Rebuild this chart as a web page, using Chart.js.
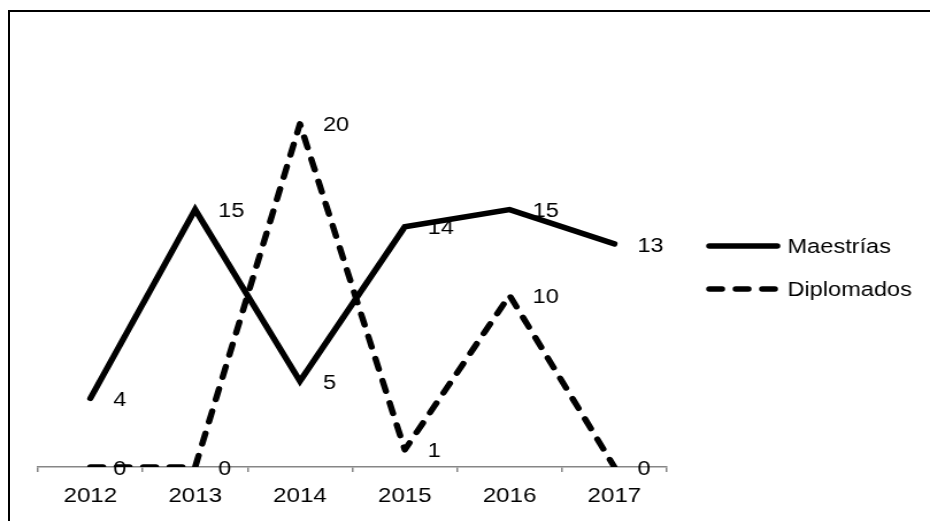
<!DOCTYPE html>
<html>
<head>
<meta charset="utf-8">
<script src="https://cdn.jsdelivr.net/npm/chart.js@4/dist/chart.umd.min.js"></script>
<style>
  html, body { margin: 0; padding: 0; background: #fff; overflow: hidden; }
  #stage { position: relative; width: 930px; height: 521px; overflow: hidden; }
  #frame { position: absolute; left: 8px; top: 10px; width: 940px; height: 530px;
           border-top: 2px solid #000; border-left: 2px solid #000; box-sizing: border-box; }
  #wrap { position: absolute; left: 0; top: 0; width: 809px; height: 521px;
          transform: scaleX(1.1496); transform-origin: 0 0; }
</style>
</head>
<body>
<div id="stage">
  <div id="frame"></div>
  <div id="wrap"><canvas id="c" width="809" height="521"></canvas></div>
</div>
<script>
// Years on the horizontal axis
const years = ['2012', '2013', '2014', '2015', '2016', '2017'];
// Programme counts per year
const maestrias = [4, 15, 5, 14, 15, 13];
const diplomados = [0, 0, 20, 1, 10, 0];
const seriesNames = ['Maestrías', 'Diplomados'];

const FONT = '"Liberation Sans", Arial, sans-serif';

// Value labels placed to the right of each point
const valueLabels = {
  id: 'valueLabels',
  afterDatasetsDraw(chart) {
    const ctx = chart.ctx;
    ctx.save();
    ctx.font = '20.5px ' + FONT;
    ctx.fillStyle = '#000';
    ctx.textAlign = 'left';
    ctx.textBaseline = 'middle';
    chart.data.datasets.forEach((ds, i) => {
      const meta = chart.getDatasetMeta(i);
      meta.data.forEach((pt, j) => {
        ctx.fillText(String(ds.data[j]), pt.x + 20, pt.y + 2);
      });
    });
    ctx.restore();
  }
};

// Legend at the right with line samples using each dataset's stroke style
const sideLegend = {
  id: 'sideLegend',
  afterDraw(chart) {
    const ctx = chart.ctx;
    const area = chart.chartArea;
    const x0 = area.right + 37;
    const x1 = x0 + 59;
    const tx = x1 + 9;
    const rows = [246, 289];
    ctx.save();
    chart.data.datasets.forEach((ds, i) => {
      const y = rows[i];
      ctx.beginPath();
      ctx.lineWidth = ds.borderWidth;
      ctx.strokeStyle = ds.borderColor;
      ctx.lineCap = ds.borderCapStyle || 'butt';
      ctx.setLineDash(ds.borderDash || []);
      ctx.moveTo(x0, y);
      ctx.lineTo(x1, y);
      ctx.stroke();
      ctx.setLineDash([]);
      ctx.font = '20.5px ' + FONT;
      ctx.fillStyle = '#000';
      ctx.textAlign = 'left';
      ctx.textBaseline = 'middle';
      ctx.fillText(ds.label, tx, y + 1);
    });
    ctx.restore();
  }
};

new Chart(document.getElementById('c'), {
  type: 'line',
  data: {
    labels: years,
    datasets: [
      {
        label: seriesNames[0],
        data: maestrias,
        borderColor: '#000',
        borderWidth: 5.5,
        borderCapStyle: 'round',
        borderJoinStyle: 'miter',
        pointRadius: 0,
        tension: 0,
        order: 1
      },
      {
        label: seriesNames[1],
        data: diplomados,
        borderColor: '#000',
        borderWidth: 5.5,
        borderDash: [11, 12],
        borderCapStyle: 'round',
        borderJoinStyle: 'round',
        pointRadius: 0,
        tension: 0,
        order: 0
      }
    ]
  },
  options: {
    responsive: false,
    animation: false,
    devicePixelRatio: 1,
    layout: { padding: { left: 33, right: 229, top: 38, bottom: 14 } },
    plugins: {
      legend: { display: false },
      tooltip: { enabled: false }
    },
    scales: {
      x: {
        type: 'category',
        offset: true,
        grid: {
          display: true,
          offset: true,
          drawOnChartArea: false,
          drawTicks: true,
          tickLength: 5,
          color: '#868686',
          lineWidth: 1.5
        },
        border: { display: true, color: '#868686', width: 1.5 },
        ticks: {
          color: '#000',
          font: { family: FONT, size: 21 },
          padding: 12,
          maxRotation: 0
        },
        afterFit(scale) { scale.height = 40; }
      },
      y: {
        display: false,
        min: 0,
        max: 25
      }
    }
  },
  plugins: [valueLabels, sideLegend]
});
</script>
</body>
</html>
